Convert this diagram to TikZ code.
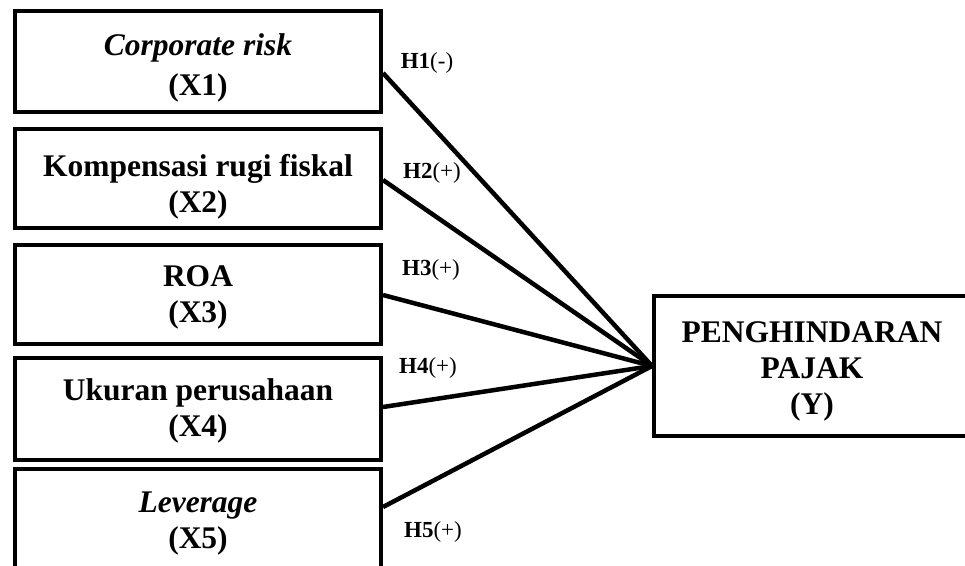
\documentclass[tikz,border=0pt]{standalone}
\usepackage{fontspec}
\setmainfont{Liberation Serif}
\begin{document}
\begin{tikzpicture}[x=1pt,y=-1pt,
  box/.style={draw, line width=4pt, inner sep=0pt},
  txt/.style={inner sep=0pt, align=center,
    font=\fontsize{31.5}{36}\selectfont\bfseries},
  link/.style={line width=4.5pt},
  hlab/.style={font=\fontsize{23}{26}\selectfont, inner sep=0pt}]
\useasboundingbox (0,0) rectangle (965,565);
\clip (0,0) rectangle (965,565);
\node[box, minimum width=366pt, minimum height=101pt] (x1) at (198,61.5) {};
\node[box, minimum width=366pt, minimum height=99pt] (x2) at (198,178.5) {};
\node[box, minimum width=366pt, minimum height=99pt] (x3) at (198,294.5) {};
\node[box, minimum width=366pt, minimum height=102pt] (x4) at (198,409) {};
\node[box, minimum width=366pt, minimum height=104pt] (x5) at (198,521) {};
\node[box, minimum width=316pt, minimum height=140pt] (y) at (812,366) {};
\node[txt] (t1) at ([yshift=-6pt]x1.center) {\textit{Corporate risk}\\[4pt](X1)};
\node[txt] (t2) at ([yshift=-8pt]x2.center) {Kompensasi rugi fiskal\\(X2)};
\node[txt] (t3) at ([yshift=-3pt]x3.center) {ROA\\(X3)};
\node[txt] (t4) at ([yshift=-2pt]x4.center) {Ukuran perusahaan\\(X4)};
\node[txt] (t5) at ([yshift=-3pt]x5.center) {\textit{Leverage}\\(X5)};
\node[txt] (ty) at ([yshift=-5pt]y.center) {PENGHINDARAN\\PAJAK\\(Y)};
\draw[link] (x1.east |- 0,73) -- (y.west);
\draw[link] (x2.east |- 0,180) -- (y.west);
\draw[link] (x3.east |- 0,295) -- (y.west);
\draw[link] (x4.east |- 0,407) -- (y.west);
\draw[link] (x5.east |- 0,507) -- (y.west);
\node[hlab] (h1) at (427,63) {\textbf{H1}(-)};
\node[hlab] (h2) at (432,173) {\textbf{H2}(+)};
\node[hlab] (h3) at (431,270) {\textbf{H3}(+)};
\node[hlab] (h4) at (428,368) {\textbf{H4}(+)};
\node[hlab] (h5) at (433,532) {\textbf{H5}(+)};
\end{tikzpicture}
\end{document}
